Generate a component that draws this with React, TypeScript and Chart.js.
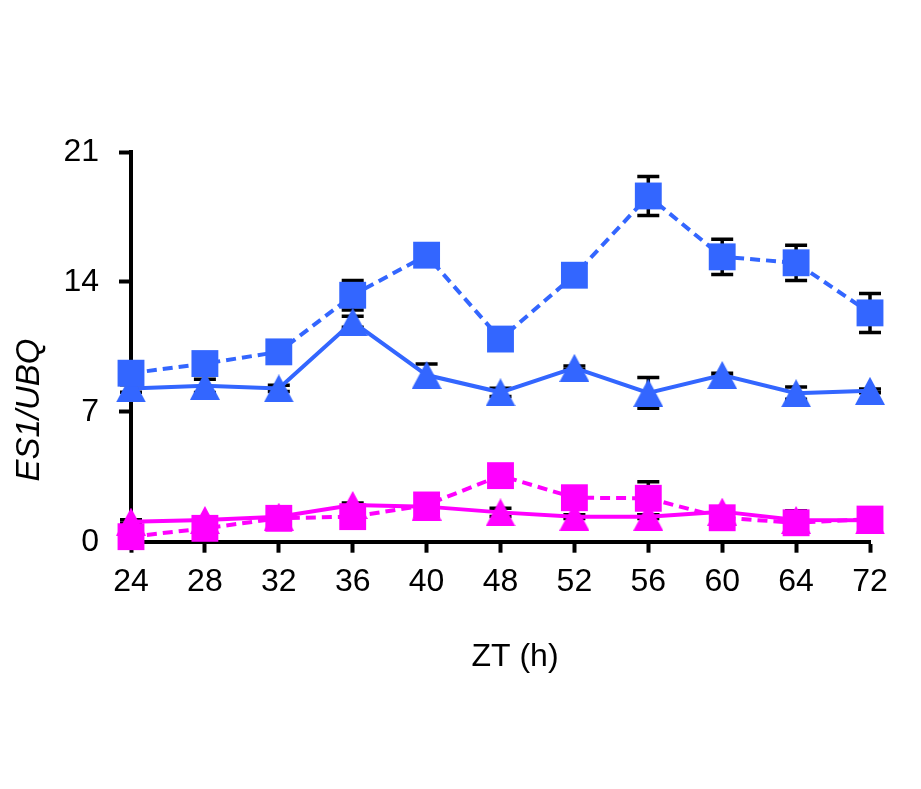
import React, { useEffect, useRef } from "react";
import { Chart, registerables } from "chart.js";

Chart.register(...registerables);

const categories = ["24", "28", "32", "36", "40", "48", "52", "56", "60", "64", "72"];

const blueSquare = [9.08, 9.6, 10.23, 13.28, 15.44, 10.92, 14.36, 18.63, 15.35, 15.03, 12.33];
const blueSquareErr = [0.3, 0.3, 0.3, 0.8, 0.3, 0.3, 0.4, 1.05, 0.95, 0.95, 1.05];

const blueTri = [8.26, 8.4, 8.26, 11.85, 8.98, 8.05, 9.37, 8.02, 8.98, 8.0, 8.13];
const blueTriErr = [0.2, 0.36, 0.17, 0.3, 0.6, 0.22, 0.1, 0.83, 0.1, 0.33, 0.1];

const magSquare = [0.27, 0.72, 1.26, 1.35, 1.98, 3.56, 2.37, 2.34, 1.29, 1.02, 1.22];
const magSquareErr = [0.2, 0.2, 0.2, 0.2, 0.2, 0.2, 0.2, 0.89, 0.2, 0.2, 0.2];

const magTri = [1.08, 1.17, 1.35, 1.98, 1.89, 1.58, 1.35, 1.35, 1.62, 1.17, 1.15];
const magTriErr = [0.1, 0.1, 0.1, 0.1, 0.1, 0.22, 0.1, 0.1, 0.1, 0.5, 0.1];

const yTicks = [0, 7, 14, 21];

const BLUE = "#3366FF";
const MAGENTA = "#FF00FF";
const FONT = "'Liberation Sans', Arial, sans-serif";

function makeTriangle(color: string): HTMLCanvasElement {
  const c = document.createElement("canvas");
  c.width = 30;
  c.height = 28;
  const ctx = c.getContext("2d")!;
  ctx.fillStyle = color;
  ctx.beginPath();
  ctx.moveTo(15, 0);
  ctx.lineTo(30, 28);
  ctx.lineTo(0, 28);
  ctx.closePath();
  ctx.fill();
  return c;
}

const errorsByDataset = [blueSquareErr, blueTriErr, magSquareErr, magTriErr];

const errorBarPlugin = {
  id: "errorBars",
  beforeDatasetsDraw(chart: any) {
    const ctx = chart.ctx;
    const yScale = chart.scales.y;
    ctx.save();
    ctx.strokeStyle = "#000";
    ctx.lineWidth = 3.5;
    chart.data.datasets.forEach((ds: any, i: number) => {
      const meta = chart.getDatasetMeta(i);
      const errs = errorsByDataset[i];
      meta.data.forEach((pt: any, j: number) => {
        const v = ds.data[j];
        const e = errs[j];
        const yt = yScale.getPixelForValue(v + e);
        const yb = yScale.getPixelForValue(v - e);
        const x = pt.x;
        ctx.beginPath();
        ctx.moveTo(x, yt);
        ctx.lineTo(x, yb);
        ctx.moveTo(x - 11, yt);
        ctx.lineTo(x + 11, yt);
        ctx.moveTo(x - 11, yb);
        ctx.lineTo(x + 11, yb);
        ctx.stroke();
      });
    });
    ctx.restore();
  },
};

const titlesPlugin = {
  id: "titles",
  afterDraw(chart: any) {
    const ctx = chart.ctx;
    ctx.save();
    ctx.fillStyle = "#000";
    ctx.textAlign = "center";
    ctx.textBaseline = "middle";
    ctx.font = `32px ${FONT}`;
    ctx.fillText("ZT (h)", 515, 657);
    ctx.translate(30, 410);
    ctx.rotate(-Math.PI / 2);
    ctx.font = `italic 33px ${FONT}`;
    ctx.fillText("ES1/UBQ", 0, 0);
    ctx.restore();
  },
};

export default function App() {
  const ref = useRef<HTMLCanvasElement | null>(null);

  useEffect(() => {
    document.body.style.margin = "0";
    const blueTriImg = makeTriangle(BLUE);
    const magTriImg = makeTriangle(MAGENTA);
    const chart = new Chart(ref.current!, {
      type: "line",
      data: {
        labels: categories,
        datasets: [
          {
            data: blueSquare,
            borderColor: BLUE,
            backgroundColor: BLUE,
            borderWidth: 4,
            borderDash: [10, 6],
            pointStyle: "rect",
            pointRadius: 19,
            pointBorderWidth: 0,
            pointBackgroundColor: BLUE,
            tension: 0,
            clip: false as any,
          },
          {
            data: blueTri,
            borderColor: BLUE,
            backgroundColor: BLUE,
            borderWidth: 4,
            pointStyle: blueTriImg as any,
            pointRadius: 15,
            tension: 0,
            clip: false as any,
          },
          {
            data: magSquare,
            borderColor: MAGENTA,
            backgroundColor: MAGENTA,
            borderWidth: 4,
            borderDash: [10, 6],
            pointStyle: "rect",
            pointRadius: 19,
            pointBorderWidth: 0,
            pointBackgroundColor: MAGENTA,
            tension: 0,
            clip: false as any,
          },
          {
            data: magTri,
            borderColor: MAGENTA,
            backgroundColor: MAGENTA,
            borderWidth: 4,
            pointStyle: magTriImg as any,
            pointRadius: 15,
            tension: 0,
            clip: false as any,
          },
        ],
      },
      options: {
        animation: false,
        responsive: false,
        events: [],
        layout: { padding: { top: 152, right: 51, left: 0, bottom: 0 } },
        plugins: {
          legend: { display: false },
          tooltip: { enabled: false },
        },
        scales: {
          x: {
            type: "category",
            offset: false,
            grid: {
              display: true,
              drawOnChartArea: false,
              drawTicks: true,
              tickLength: 11,
              tickWidth: 4,
              tickColor: "#000",
            },
            border: { display: true, color: "#000", width: 4 },
            ticks: {
              color: "#000",
              font: { family: FONT, size: 32 },
              padding: 10,
              maxRotation: 0,
              autoSkip: false,
            },
            afterFit: (scale: any) => {
              scale.height = 789 - 541.7;
            },
          },
          y: {
            min: 0,
            max: 21,
            afterBuildTicks: (scale: any) => {
              scale.ticks = yTicks.map((v) => ({ value: v }));
            },
            grid: {
              display: true,
              drawOnChartArea: false,
              drawTicks: true,
              tickLength: 12,
              tickWidth: 4,
              tickColor: "#000",
            },
            border: { display: true, color: "#000", width: 4 },
            ticks: {
              color: "#000",
              font: { family: FONT, size: 32 },
              padding: 20,
            },
            afterFit: (scale: any) => {
              scale.width = 131;
            },
          },
        },
      },
      plugins: [errorBarPlugin, titlesPlugin],
    });
    return () => chart.destroy();
  }, []);

  return (
    <div style={{ position: "absolute", left: 0, top: 0, width: 921, height: 789 }}>
      <canvas ref={ref} width={921} height={789} style={{ display: "block" }} />
    </div>
  );
}
